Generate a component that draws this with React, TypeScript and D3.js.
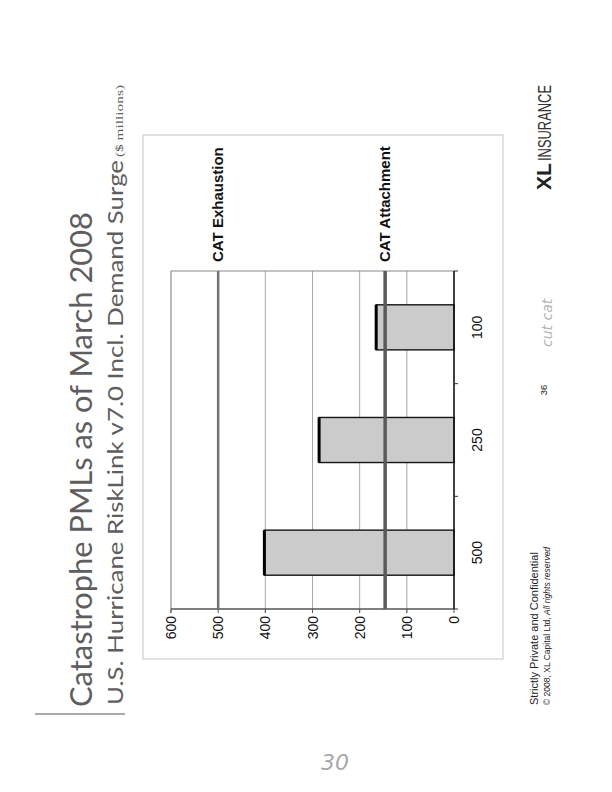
import React from 'react';
import * as d3 from 'd3';

const categories = ['500', '250', '100'];
const pmlValues = [402, 286, 165];
const valueTicks = [0, 100, 200, 300, 400, 500, 600];
const gridTicks = [100, 200, 300, 400];
const catExhaustion = 500;
const catAttachment = 146;
const exhaustionLabel = 'CAT Exhaustion';
const attachmentLabel = 'CAT Attachment';
const titleText = 'Catastrophe PMLs as of March 2008';
const subtitleText = 'U.S. Hurricane RiskLink v7.0 Incl. Demand Surge';
const unitText = '($ millions)';

export default function App() {
  const W = 612;
  const H = 792;
  // slide (landscape) coordinates, rotated onto the portrait page
  const plot = { left: 183, right: 521, top: 171, bottom: 454 };
  const x = d3
    .scaleBand<string>()
    .domain(categories)
    .range([plot.left, plot.right])
    .paddingInner(0.6)
    .paddingOuter(0.3);
  const xb = d3.scaleBand<string>().domain(categories).range([plot.left, plot.right]).padding(0);
  const y = d3.scaleLinear().domain([0, 600]).range([plot.bottom, plot.top]);
  const bw = x.bandwidth();
  const sans = 'Liberation Sans, Arial, sans-serif';
  const bounds = [...categories.map((c) => xb(c) as number), plot.right];

  return (
    <svg
      width={W}
      height={H}
      style={{ position: 'absolute', left: 0, top: 0, background: '#fff' }}
      xmlns="http://www.w3.org/2000/svg"
    >
      <rect x={0} y={0} width={W} height={H} fill="#fff" />
      <g transform={`translate(0,${H}) rotate(-90)`}>
        {/* outer frame */}
        <rect x={133} y={143} width={524} height={360} fill="none" stroke="#c4c4c4" strokeWidth={1} />
        {/* title block */}
        <line x1={78} x2={78} y1={35} y2={125} stroke="#555" strokeWidth={1} />
        <text x={85} y={92} fontFamily="Lato, 'Open Sans', sans-serif" fontSize={31} fill="#5e5e5e" textLength={495} lengthAdjust="spacingAndGlyphs">
          {titleText}
        </text>
        <text x={87} y={123} fontFamily="Lato, 'Open Sans', sans-serif" fontSize={22} fill="#5e5e5e" textLength={545} lengthAdjust="spacingAndGlyphs">
          {subtitleText}
        </text>
        <text x={635} y={123} fontFamily="Liberation Serif, serif" fontSize={10} fill="#5e5e5e" textLength={72} lengthAdjust="spacingAndGlyphs">
          {unitText}
        </text>

        {/* gridlines */}
        {gridTicks.map((t) => (
          <line key={t} x1={plot.left - 4} x2={plot.right} y1={y(t)} y2={y(t)} stroke="#a8a8a8" strokeWidth={1} />
        ))}
        {/* plot border */}
        <line x1={plot.left - 4} x2={plot.right} y1={y(600)} y2={y(600)} stroke="#8a8a8a" strokeWidth={1.2} />
        <line x1={plot.right} x2={plot.right} y1={y(600)} y2={y(0)} stroke="#8a8a8a" strokeWidth={1.2} />
        <line x1={plot.left} x2={plot.left} y1={y(600)} y2={y(0)} stroke="#555" strokeWidth={1.3} />
        {valueTicks.map((t) => (
          <line key={`vt${t}`} x1={plot.left - 4} x2={plot.left} y1={y(t)} y2={y(t)} stroke="#555" strokeWidth={1} />
        ))}

        {/* bars */}
        {categories.map((c, i) => (
          <g key={c}>
            <rect
              x={x(c)}
              y={y(pmlValues[i])}
              width={bw}
              height={y(0) - y(pmlValues[i])}
              fill="#cbcbcb"
              stroke="#151515"
              strokeWidth={1.4}
            />
            <line
              x1={x(c) as number}
              x2={(x(c) as number) + bw}
              y1={y(pmlValues[i])}
              y2={y(pmlValues[i])}
              stroke="#000"
              strokeWidth={3}
            />
          </g>
        ))}

        {/* reference lines */}
        <line x1={plot.left} x2={plot.right} y1={y(catExhaustion)} y2={y(catExhaustion)} stroke="#737373" strokeWidth={2.5} />
        <line x1={plot.left} x2={plot.right} y1={y(catAttachment)} y2={y(catAttachment)} stroke="#5a5a5a" strokeWidth={3.5} />
        <text x={530} y={y(catExhaustion) + 5.3} fontFamily={sans} fontWeight="bold" fontSize={15} fill="#111">
          {exhaustionLabel}
        </text>
        <text x={530} y={y(catAttachment) + 5.3} fontFamily={sans} fontWeight="bold" fontSize={15} fill="#111">
          {attachmentLabel}
        </text>

        {/* category axis */}
        <line x1={plot.left} x2={plot.right} y1={y(0)} y2={y(0)} stroke="#111" strokeWidth={1.6} />
        {bounds.map((b, i) => (
          <line key={`ct${i}`} x1={b} x2={b} y1={y(0)} y2={y(0) + 4} stroke="#333" strokeWidth={1} />
        ))}
        {categories.map((c) => (
          <text
            key={`cl${c}`}
            x={(xb(c) as number) + xb.bandwidth() / 2}
            y={482}
            textAnchor="middle"
            fontFamily={sans}
            fontSize={14}
            fill="#111"
          >
            {c}
          </text>
        ))}
        {/* value labels */}
        {valueTicks.map((t) => (
          <text key={`vl${t}`} x={176} y={y(t) + 5} textAnchor="end" fontFamily={sans} fontSize={14} fill="#111">
            {t}
          </text>
        ))}

        {/* footer */}
        <text x={87} y={538} fontFamily={sans} fontSize={11} fill="#222">
          Strictly Private and Confidential
        </text>
        <text x={87} y={550} fontFamily={sans} fontSize={8.5} fill="#222">
          © 2008, XL Capital Ltd, <tspan fontStyle="italic">All rights reserved</tspan>
        </text>
        <text x={402} y={547} textAnchor="middle" fontFamily={sans} fontSize={9.5} fill="#222">
          36
        </text>
        <text x={445} y={552} fontFamily="DejaVu Sans, sans-serif" fontStyle="italic" fontSize={14} fill="#b5b5b5">
          cut cat
        </text>
        {/* logo */}
        <text x={602} y={551} fontFamily={sans} fontWeight="bold" fontSize={21} fill="#222" textLength={27} lengthAdjust="spacingAndGlyphs">
          XL
        </text>
        <text x={631} y={551} fontFamily={sans} fontSize={19} fill="#333" textLength={76} lengthAdjust="spacingAndGlyphs">
          INSURANCE
        </text>
      </g>
      {/* handwritten page number */}
      <text x={335} y={770} textAnchor="middle" fontFamily="DejaVu Sans, sans-serif" fontStyle="italic" fontWeight={200} fontSize={22} fill="#a8a8a8">
        30
      </text>
    </svg>
  );
}
